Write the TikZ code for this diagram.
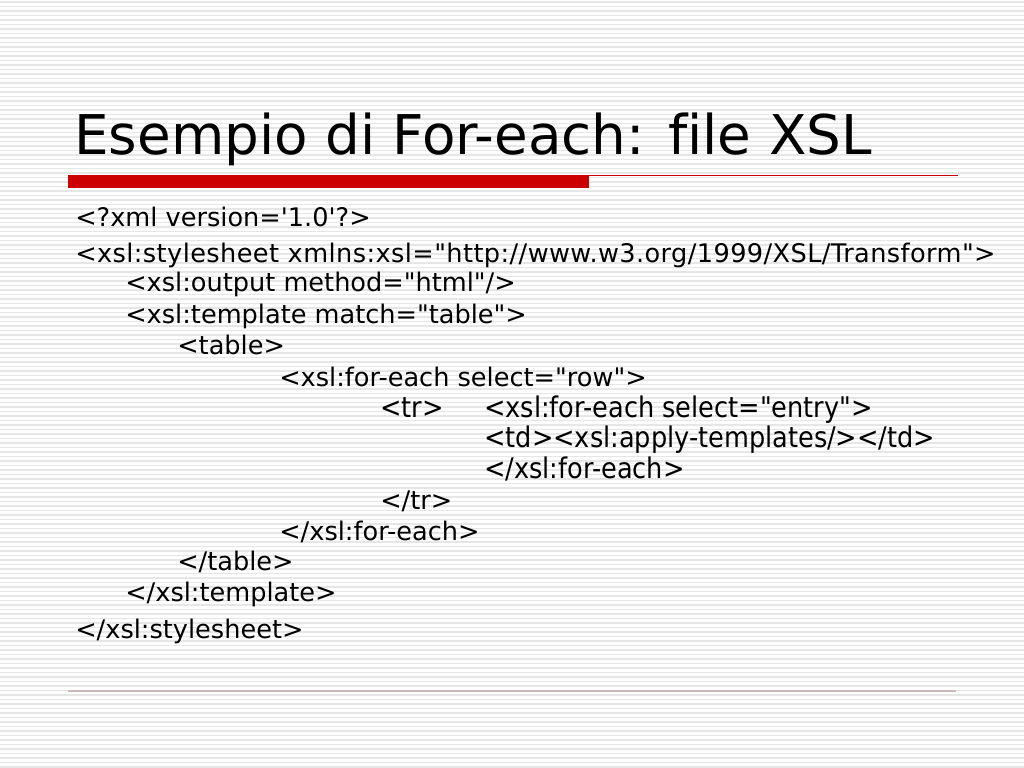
\documentclass[tikz,border=0pt]{standalone}
\usepackage{xcolor}
\usepackage{fontspec}
\newfontfamily\slidefont[Ligatures=NoCommon]{DejaVu Sans}
\newfontfamily\widefont[Ligatures=NoCommon, LetterSpace=1.6]{DejaVu Sans}
\newfontfamily\narrowfont[Ligatures=NoCommon, FakeStretch=0.9]{DejaVu Sans}
\definecolor{cc0000}{HTML}{CC0000}
\definecolor{stripe}{HTML}{E6E6E6}
\definecolor{rule}{HTML}{C8B8B8}
\tikzset{
    code/.style={anchor=base west, inner sep=0pt, font=\slidefont\fontsize{18}{21}\selectfont},
    narrowcode/.style={anchor=base west, inner sep=0pt, font=\narrowfont\fontsize{20}{23}\selectfont}
}

\begin{document}
\begin{tikzpicture}[x=0.703125pt, y=-0.703125pt]
            \useasboundingbox (0, 0) rectangle (1024, 768);
            \fill[white] (0, 0) rectangle (1024, 768);

            \foreach \y in {2, 6.5, ..., 768}
                \draw[stripe, line width=1.1pt] (0, \y) -- (1024, \y);

            \fill[cc0000] (68, 175) rectangle (589, 188);
            \draw[cc0000, line width=1pt] (589, 175.5) -- (958, 175.5);
            \draw[rule, line width=1.2pt] (68, 691) -- (956, 691);

            \node[anchor=base west, inner sep=0pt, font=\slidefont\fontsize{38.5}{46}\selectfont] (title) at (74, 155) {Esempio di For-each: file XSL};

            \node[code] (xmldecl) at (75, 227) {<?xml version='1.0'?>};
            \node[code, font=\widefont\fontsize{18}{21}\selectfont] (sheet) at (75, 263) {<xsl:stylesheet xmlns:xsl="http://www.w3.org/1999/XSL/Transform">};
            \node[code] (output) at (125, 292) {<xsl:output method="html"/>};
            \node[code] (template) at (125, 323) {<xsl:template match="table">};
            \node[code] (table) at (177, 354) {<table>};
            \node[code] (rows) at (279, 386) {<xsl:for-each select="row">};
            \node[narrowcode] (tr) at (380, 417) {<tr>};
            \node[narrowcode] (entries) at (484, 417) {<xsl:for-each select="entry">};
            \node[narrowcode] (td) at (484, 447) {<td><xsl:apply-templates/></td>};
            \node[narrowcode] (entriesend) at (484, 478) {</xsl:for-each>};
            \node[code] (trend) at (380, 509) {</tr>};
            \node[code] (rowsend) at (279, 540) {</xsl:for-each>};
            \node[code] (tableend) at (177, 570) {</table>};
            \node[code] (templateend) at (125, 601) {</xsl:template>};
            \node[code] (sheetend) at (75, 638) {</xsl:stylesheet>};
        \end{tikzpicture}
\end{document}
